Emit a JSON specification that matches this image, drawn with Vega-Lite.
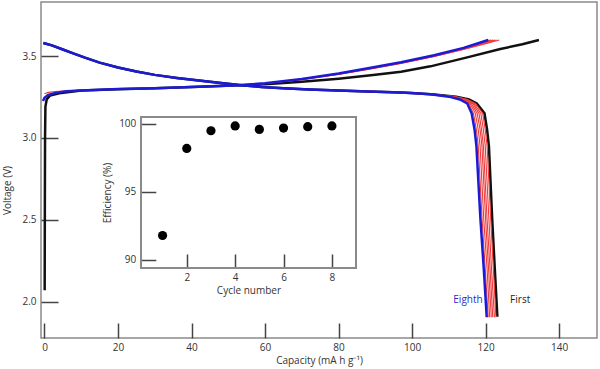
{
  "$schema": "https://vega.github.io/schema/vega-lite/v6.json",
  "width": 556,
  "height": 336,
  "autosize": "none",
  "padding": {"left": 41, "top": 2, "right": 3, "bottom": 31},
  "config": {
    "font": "Open Sans",
    "view": {"stroke": "#8a8a8a", "strokeWidth": 1.5},
    "axis": {
      "grid": false,
      "domain": false,
      "tickColor": "#444",
      "tickWidth": 1.5,
      "labelFontSize": 10,
      "titleFontSize": 10,
      "titleFontWeight": "normal",
      "labelColor": "#333",
      "titleColor": "#333",
      "labelFont": "Open Sans",
      "titleFont": "Open Sans"
    }
  },
  "datasets": {
    "curves": [
      {"c":1,"p":"c","x":0.05,"y":2.07},{"c":1,"p":"c","x":0.1,"y":2.6},{"c":1,"p":"c","x":0.15,"y":3.0},{"c":1,"p":"c","x":0.25,"y":3.19},{"c":1,"p":"c","x":0.6,"y":3.235},{"c":1,"p":"c","x":1.5,"y":3.258},{"c":1,"p":"c","x":4,"y":3.273},{"c":1,"p":"c","x":10,"y":3.289},{"c":1,"p":"c","x":20,"y":3.297},{"c":1,"p":"c","x":30,"y":3.303},{"c":1,"p":"c","x":42,"y":3.312},{"c":1,"p":"c","x":53,"y":3.321},{"c":1,"p":"c","x":60,"y":3.328},{"c":1,"p":"c","x":70,"y":3.343},{"c":1,"p":"c","x":80,"y":3.362},{"c":1,"p":"c","x":90,"y":3.385},{"c":1,"p":"c","x":97,"y":3.404},{"c":1,"p":"c","x":105,"y":3.437},{"c":1,"p":"c","x":115,"y":3.492},{"c":1,"p":"c","x":124,"y":3.543},{"c":1,"p":"c","x":130,"y":3.572},{"c":1,"p":"c","x":134.5,"y":3.598},
      {"c":1,"p":"d","x":-0.3,"y":3.58},{"c":1,"p":"d","x":2,"y":3.565},{"c":1,"p":"d","x":5,"y":3.54},{"c":1,"p":"d","x":8,"y":3.515},{"c":1,"p":"d","x":11,"y":3.49},{"c":1,"p":"d","x":15,"y":3.46},{"c":1,"p":"d","x":20,"y":3.43},{"c":1,"p":"d","x":25,"y":3.405},{"c":1,"p":"d","x":30,"y":3.385},{"c":1,"p":"d","x":36,"y":3.366},{"c":1,"p":"d","x":42,"y":3.35},{"c":1,"p":"d","x":48,"y":3.335},{"c":1,"p":"d","x":53,"y":3.323},{"c":1,"p":"d","x":59,"y":3.311},{"c":1,"p":"d","x":65,"y":3.303},{"c":1,"p":"d","x":72,"y":3.296},{"c":1,"p":"d","x":80,"y":3.29},{"c":1,"p":"d","x":88,"y":3.284},{"c":1,"p":"d","x":97,"y":3.277},{"c":1,"p":"d","x":100,"y":3.274},{"c":1,"p":"d","x":106,"y":3.265},{"c":1,"p":"d","x":112,"y":3.252},{"c":1,"p":"d","x":115.5,"y":3.235},{"c":1,"p":"d","x":117.6,"y":3.21},{"c":1,"p":"d","x":119.7,"y":3.15},{"c":1,"p":"d","x":120.4,"y":3.05},{"c":1,"p":"d","x":120.9,"y":2.95},{"c":1,"p":"d","x":121.8,"y":2.5},{"c":1,"p":"d","x":122.5,"y":2.2},{"c":1,"p":"d","x":123.2,"y":1.908},

      {"c":2,"p":"c","x":0,"y":3.27},{"c":2,"p":"c","x":1,"y":3.278},{"c":2,"p":"c","x":3,"y":3.283},{"c":2,"p":"c","x":6,"y":3.288},{"c":2,"p":"c","x":10,"y":3.292},{"c":2,"p":"c","x":20,"y":3.298},{"c":2,"p":"c","x":30,"y":3.303},{"c":2,"p":"c","x":42,"y":3.312},{"c":2,"p":"c","x":53,"y":3.322},{"c":2,"p":"c","x":60,"y":3.332},{"c":2,"p":"c","x":70,"y":3.356},{"c":2,"p":"c","x":80,"y":3.388},{"c":2,"p":"c","x":88,"y":3.418},{"c":2,"p":"c","x":97,"y":3.455},{"c":2,"p":"c","x":106,"y":3.497},{"c":2,"p":"c","x":114,"y":3.54},{"c":2,"p":"c","x":120,"y":3.575},{"c":2,"p":"c","x":123.7,"y":3.598},
      {"c":2,"p":"d","x":80,"y":3.29},{"c":2,"p":"d","x":97,"y":3.277},{"c":2,"p":"d","x":105,"y":3.266},{"c":2,"p":"d","x":111.7,"y":3.252},{"c":2,"p":"d","x":115.1,"y":3.235},{"c":2,"p":"d","x":117.2,"y":3.21},{"c":2,"p":"d","x":119.2,"y":3.15},{"c":2,"p":"d","x":119.9,"y":3.05},{"c":2,"p":"d","x":120.4,"y":2.95},{"c":2,"p":"d","x":121.4,"y":2.5},{"c":2,"p":"d","x":122.1,"y":2.2},{"c":2,"p":"d","x":122.8,"y":1.905},

      {"c":3,"p":"c","x":20,"y":3.298},{"c":3,"p":"c","x":42,"y":3.312},{"c":3,"p":"c","x":53,"y":3.322},{"c":3,"p":"c","x":60,"y":3.332},{"c":3,"p":"c","x":70,"y":3.357},{"c":3,"p":"c","x":80,"y":3.389},{"c":3,"p":"c","x":88,"y":3.419},{"c":3,"p":"c","x":97,"y":3.456},{"c":3,"p":"c","x":106,"y":3.498},{"c":3,"p":"c","x":114,"y":3.542},{"c":3,"p":"c","x":120,"y":3.578},{"c":3,"p":"c","x":123,"y":3.598},
      {"c":3,"p":"d","x":80,"y":3.29},{"c":3,"p":"d","x":97,"y":3.277},{"c":3,"p":"d","x":105,"y":3.266},{"c":3,"p":"d","x":111.4,"y":3.252},{"c":3,"p":"d","x":114.8,"y":3.235},{"c":3,"p":"d","x":116.8,"y":3.21},{"c":3,"p":"d","x":118.7,"y":3.15},{"c":3,"p":"d","x":119.4,"y":3.05},{"c":3,"p":"d","x":119.9,"y":2.95},{"c":3,"p":"d","x":120.9,"y":2.5},{"c":3,"p":"d","x":121.6,"y":2.2},{"c":3,"p":"d","x":122.4,"y":1.905},

      {"c":4,"p":"c","x":20,"y":3.298},{"c":4,"p":"c","x":42,"y":3.312},{"c":4,"p":"c","x":53,"y":3.322},{"c":4,"p":"c","x":60,"y":3.333},{"c":4,"p":"c","x":70,"y":3.358},{"c":4,"p":"c","x":80,"y":3.39},{"c":4,"p":"c","x":88,"y":3.421},{"c":4,"p":"c","x":97,"y":3.458},{"c":4,"p":"c","x":106,"y":3.5},{"c":4,"p":"c","x":114,"y":3.545},{"c":4,"p":"c","x":120,"y":3.583},{"c":4,"p":"c","x":122.5,"y":3.598},
      {"c":4,"p":"d","x":80,"y":3.29},{"c":4,"p":"d","x":97,"y":3.277},{"c":4,"p":"d","x":105,"y":3.266},{"c":4,"p":"d","x":111.1,"y":3.252},{"c":4,"p":"d","x":114.4,"y":3.235},{"c":4,"p":"d","x":116.5,"y":3.21},{"c":4,"p":"d","x":118.2,"y":3.15},{"c":4,"p":"d","x":118.9,"y":3.05},{"c":4,"p":"d","x":119.4,"y":2.95},{"c":4,"p":"d","x":120.4,"y":2.5},{"c":4,"p":"d","x":121.2,"y":2.2},{"c":4,"p":"d","x":121.95,"y":1.905},

      {"c":5,"p":"c","x":20,"y":3.298},{"c":5,"p":"c","x":42,"y":3.312},{"c":5,"p":"c","x":53,"y":3.322},{"c":5,"p":"c","x":60,"y":3.333},{"c":5,"p":"c","x":70,"y":3.358},{"c":5,"p":"c","x":80,"y":3.391},{"c":5,"p":"c","x":88,"y":3.422},{"c":5,"p":"c","x":97,"y":3.459},{"c":5,"p":"c","x":106,"y":3.502},{"c":5,"p":"c","x":114,"y":3.547},{"c":5,"p":"c","x":120,"y":3.586},{"c":5,"p":"c","x":122,"y":3.598},
      {"c":5,"p":"d","x":80,"y":3.29},{"c":5,"p":"d","x":97,"y":3.277},{"c":5,"p":"d","x":105,"y":3.266},{"c":5,"p":"d","x":110.9,"y":3.252},{"c":5,"p":"d","x":114.1,"y":3.235},{"c":5,"p":"d","x":116.1,"y":3.21},{"c":5,"p":"d","x":117.7,"y":3.15},{"c":5,"p":"d","x":118.5,"y":3.05},{"c":5,"p":"d","x":119.0,"y":2.95},{"c":5,"p":"d","x":120.0,"y":2.5},{"c":5,"p":"d","x":120.8,"y":2.2},{"c":5,"p":"d","x":121.55,"y":1.905},

      {"c":6,"p":"c","x":20,"y":3.298},{"c":6,"p":"c","x":42,"y":3.312},{"c":6,"p":"c","x":53,"y":3.322},{"c":6,"p":"c","x":60,"y":3.334},{"c":6,"p":"c","x":70,"y":3.359},{"c":6,"p":"c","x":80,"y":3.392},{"c":6,"p":"c","x":88,"y":3.423},{"c":6,"p":"c","x":97,"y":3.46},{"c":6,"p":"c","x":106,"y":3.503},{"c":6,"p":"c","x":114,"y":3.548},{"c":6,"p":"c","x":120,"y":3.59},{"c":6,"p":"c","x":121.5,"y":3.598},
      {"c":6,"p":"d","x":80,"y":3.29},{"c":6,"p":"d","x":97,"y":3.277},{"c":6,"p":"d","x":105,"y":3.266},{"c":6,"p":"d","x":110.6,"y":3.252},{"c":6,"p":"d","x":113.7,"y":3.235},{"c":6,"p":"d","x":115.75,"y":3.21},{"c":6,"p":"d","x":117.2,"y":3.15},{"c":6,"p":"d","x":118.0,"y":3.05},{"c":6,"p":"d","x":118.5,"y":2.95},{"c":6,"p":"d","x":119.5,"y":2.5},{"c":6,"p":"d","x":120.4,"y":2.2},{"c":6,"p":"d","x":121.1,"y":1.905},

      {"c":7,"p":"c","x":20,"y":3.298},{"c":7,"p":"c","x":42,"y":3.312},{"c":7,"p":"c","x":53,"y":3.322},{"c":7,"p":"c","x":60,"y":3.334},{"c":7,"p":"c","x":70,"y":3.36},{"c":7,"p":"c","x":80,"y":3.393},{"c":7,"p":"c","x":88,"y":3.424},{"c":7,"p":"c","x":97,"y":3.461},{"c":7,"p":"c","x":106,"y":3.504},{"c":7,"p":"c","x":114,"y":3.549},{"c":7,"p":"c","x":121,"y":3.598},
      {"c":7,"p":"d","x":80,"y":3.29},{"c":7,"p":"d","x":97,"y":3.277},{"c":7,"p":"d","x":105,"y":3.266},{"c":7,"p":"d","x":110.3,"y":3.252},{"c":7,"p":"d","x":113.35,"y":3.235},{"c":7,"p":"d","x":115.4,"y":3.21},{"c":7,"p":"d","x":116.7,"y":3.15},{"c":7,"p":"d","x":117.5,"y":3.05},{"c":7,"p":"d","x":118.0,"y":2.95},{"c":7,"p":"d","x":119.05,"y":2.5},{"c":7,"p":"d","x":119.9,"y":2.2},{"c":7,"p":"d","x":120.7,"y":1.905},

      {"c":8,"p":"c","x":-0.4,"y":3.225},{"c":8,"p":"c","x":0,"y":3.245},{"c":8,"p":"c","x":1,"y":3.262},{"c":8,"p":"c","x":3,"y":3.275},{"c":8,"p":"c","x":6,"y":3.285},{"c":8,"p":"c","x":10,"y":3.29},{"c":8,"p":"c","x":20,"y":3.298},{"c":8,"p":"c","x":30,"y":3.303},{"c":8,"p":"c","x":42,"y":3.312},{"c":8,"p":"c","x":53,"y":3.322},{"c":8,"p":"c","x":60,"y":3.334},{"c":8,"p":"c","x":70,"y":3.36},{"c":8,"p":"c","x":80,"y":3.393},{"c":8,"p":"c","x":88,"y":3.425},{"c":8,"p":"c","x":97,"y":3.462},{"c":8,"p":"c","x":106,"y":3.505},{"c":8,"p":"c","x":114,"y":3.55},{"c":8,"p":"c","x":120.7,"y":3.598},
      {"c":8,"p":"d","x":-0.3,"y":3.58},{"c":8,"p":"d","x":2,"y":3.565},{"c":8,"p":"d","x":5,"y":3.54},{"c":8,"p":"d","x":8,"y":3.515},{"c":8,"p":"d","x":11,"y":3.49},{"c":8,"p":"d","x":15,"y":3.46},{"c":8,"p":"d","x":20,"y":3.43},{"c":8,"p":"d","x":25,"y":3.405},{"c":8,"p":"d","x":30,"y":3.385},{"c":8,"p":"d","x":36,"y":3.366},{"c":8,"p":"d","x":42,"y":3.35},{"c":8,"p":"d","x":48,"y":3.335},{"c":8,"p":"d","x":53,"y":3.323},{"c":8,"p":"d","x":59,"y":3.311},{"c":8,"p":"d","x":65,"y":3.303},{"c":8,"p":"d","x":72,"y":3.296},{"c":8,"p":"d","x":80,"y":3.29},{"c":8,"p":"d","x":88,"y":3.284},{"c":8,"p":"d","x":97,"y":3.277},{"c":8,"p":"d","x":105,"y":3.266},{"c":8,"p":"d","x":110,"y":3.252},{"c":8,"p":"d","x":113,"y":3.235},{"c":8,"p":"d","x":115,"y":3.21},{"c":8,"p":"d","x":116.2,"y":3.15},{"c":8,"p":"d","x":117,"y":3.05},{"c":8,"p":"d","x":117.5,"y":2.95},{"c":8,"p":"d","x":118.6,"y":2.5},{"c":8,"p":"d","x":119.5,"y":2.2},{"c":8,"p":"d","x":120.3,"y":1.905}
    ],
    "eff": [
      {"n":1,"e":91.8},{"n":2,"e":98.2},{"n":3,"e":99.5},{"n":4,"e":99.85},{"n":5,"e":99.6},{"n":6,"e":99.7},{"n":7,"e":99.8},{"n":8,"e":99.85}
    ],
    "labels": [
      {"t":"Eighth","x":115.2,"y":2.01},
      {"t":"First","x":129.4,"y":2.01}
    ]
  },
  "layer": [
    {
      "encoding": {
        "x": {"type": "quantitative", "field": "x", "scale": {"domain": [-0.95, 150.3], "nice": false, "zero": false},
              "axis": {"values": [0,20,40,60,80,100,120,140], "tickSize": -15, "labelPadding": 19, "title": "Capacity (mA h g⁻¹)", "titlePadding": 3}},
        "y": {"type": "quantitative", "field": "y", "scale": {"domain": [1.778, 3.83], "nice": false, "zero": false},
              "axis": {"values": [2.0,2.5,3.0,3.5], "format": ".1f", "tickSize": -17, "labelPadding": 22, "title": "Voltage (V)", "titleX": -29, "titleY": 188}}
      },
      "layer": [
        {"data": {"name": "curves"}, "transform": [{"filter": "datum.c == 1"}], "mark": {"type": "line", "color": "#111111", "strokeWidth": 2.5}, "encoding": {"detail": {"field": "p"}}},
        {"data": {"name": "curves"}, "transform": [{"filter": "datum.c >= 2 && datum.c <= 7"}], "mark": {"type": "line", "color": "#ee3b3b", "strokeWidth": 1.1}, "encoding": {"detail": [{"field": "c"}, {"field": "p"}]}},
        {"data": {"name": "curves"}, "transform": [{"filter": "datum.c == 8"}], "mark": {"type": "line", "color": "#1b1bd6", "strokeWidth": 2.5}, "encoding": {"detail": {"field": "p"}}},
        {"data": {"name": "labels"}, "mark": {"type": "text", "fontSize": 10, "font": "Open Sans", "align": "center", "baseline": "middle"},
         "encoding": {"text": {"field": "t"}, "color": {"field": "t", "type": "nominal", "scale": {"domain": ["Eighth", "First"], "range": ["#2a2ad0", "#222222"]}, "legend": null}}}
      ]
    },
    {
      "data": {"name": "eff"},
      "encoding": {
        "x": {"type": "quantitative", "field": "n", "scale": {"domain": [0.1, 9], "range": [99.8, 315.1], "nice": false, "zero": false},
              "axis": {"orient": "bottom", "offset": -70, "values": [2,4,6,8], "tickSize": -14, "labelPadding": 18, "title": "Cycle number", "titlePadding": 3}},
        "y": {"type": "quantitative", "field": "e", "scale": {"domain": [89.41, 100.51], "range": [266, 115], "nice": false, "zero": false},
              "axis": {"orient": "left", "offset": -99.8, "values": [90,95,100], "tickSize": -15, "labelPadding": 20, "title": "Efficiency (%)", "titlePadding": 6}}
      },
      "layer": [
        {"mark": {"type": "rect", "fill": null, "fillOpacity": 0, "stroke": "#8a8a8a", "strokeWidth": 1.5},
         "encoding": {"x": {"datum": 0.1, "type": "quantitative"}, "x2": {"datum": 9}, "y": {"datum": 89.41, "type": "quantitative"}, "y2": {"datum": 100.51}}},
        {"mark": {"type": "circle", "size": 85, "color": "#000000", "opacity": 1}}
      ]
    }
  ],
  "resolve": {"scale": {"x": "independent", "y": "independent", "color": "independent"}}
}
